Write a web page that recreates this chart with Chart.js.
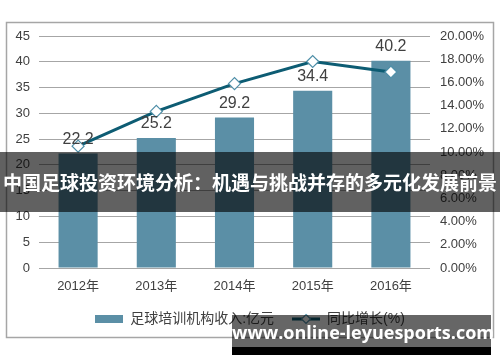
<!DOCTYPE html>
<html>
<head>
<meta charset="utf-8">
<script src="https://cdn.jsdelivr.net/npm/chart.js@4"></script>
<style>
html,body{margin:0;padding:0;background:#fff;}
#wrap{position:relative;width:500px;height:362px;overflow:hidden;}
canvas{position:absolute;left:0;top:0;}
#banner{position:absolute;left:0;top:152px;width:500px;height:60px;background:rgba(0,0,0,0.62);color:#fff;
 font:bold 19px "Noto Sans CJK SC",sans-serif;line-height:60px;text-align:center;white-space:nowrap;letter-spacing:0px;}
#wm{position:absolute;left:232px;top:315px;width:259px;height:29px;background:rgba(0,0,0,0.6);border-bottom:8px solid #000;
 color:#fff;font:bold 18px "Open Sans","DejaVu Sans",sans-serif;line-height:29px;text-align:center;white-space:nowrap;padding-top:3px;box-sizing:content-box;}
</style>
</head>
<body>
<div id="wrap">
<canvas id="c" width="500" height="362"></canvas>
<div id="banner">中国足球投资环境分析：机遇与挑战并存的多元化发展前景</div>
<div id="wm">www.online-leyuesports.com</div>
</div>
<script>
const categories = ['2012年','2013年','2014年','2015年','2016年'];
const revenue = [22.2, 25.2, 29.2, 34.4, 40.2];
const growth = [10.5, 13.5, 15.9, 17.8, 16.9];
const revenueLabel = '足球培训机构收入:亿元';
const growthLabel = '同比增长(%)';

const BAR = '#5b8fa6';
const LINE = '#0d5c73';
const FONT = '"Liberation Sans", Arial, "Noto Sans CJK SC", sans-serif';

function swatchBar(){
  const c=document.createElement('canvas');c.width=28;c.height=8;
  const x=c.getContext('2d');x.fillStyle=BAR;x.fillRect(0,0,28,8);return c;
}
function swatchLine(){
  const c=document.createElement('canvas');c.width=28;c.height=12;
  const x=c.getContext('2d');
  x.strokeStyle=LINE;x.lineWidth=3;x.beginPath();x.moveTo(0,6);x.lineTo(28,6);x.stroke();
  x.fillStyle='#fff';x.strokeStyle='#4f8fa8';x.lineWidth=1.2;
  x.beginPath();x.moveTo(14,1.5);x.lineTo(18.5,6);x.lineTo(14,10.5);x.lineTo(9.5,6);x.closePath();x.fill();x.stroke();
  return c;
}

const framePlugin={id:'frame',beforeDraw(chart){
  const ctx=chart.ctx;ctx.save();ctx.strokeStyle='#a6a6a6';ctx.lineWidth=1.5;
  ctx.strokeRect(6.5,22.5,487,315);ctx.restore();}};

const labelPlugin={id:'barlabels',afterDatasetsDraw(chart){
  const ctx=chart.ctx;const meta=chart.getDatasetMeta(1);
  ctx.save();ctx.font='16px '+FONT;ctx.fillStyle='#404040';ctx.textAlign='center';ctx.textBaseline='bottom';
  meta.data.forEach((el,i)=>{ctx.fillText(revenue[i].toFixed(1),el.x,el.y-6);});
  ctx.restore();}};

new Chart(document.getElementById('c'),{
  data:{labels:categories,datasets:[
    {type:'line',label:growthLabel,data:growth,yAxisID:'y1',borderColor:LINE,borderWidth:3,
     pointStyle:'rectRot',pointRadius:6,pointBackgroundColor:'#fff',pointBorderColor:'#4f8fa8',pointBorderWidth:1.2,
     tension:0,order:0},
    {type:'bar',label:revenueLabel,data:revenue,yAxisID:'y',backgroundColor:BAR,
     categoryPercentage:1,barPercentage:0.5,order:1}
  ]},
  options:{
    responsive:false,animation:false,
    layout:{padding:{left:6,right:6,top:36,bottom:26}},
    plugins:{
      tooltip:{enabled:false},
      legend:{position:'bottom',
        labels:{usePointStyle:true,pointStyleWidth:28,padding:18,color:'#404040',font:{size:14,family:FONT},
          generateLabels(chart){
            return [
              {text:revenueLabel,pointStyle:swatchBar(),fontColor:'#404040',datasetIndex:1,lineWidth:0},
              {text:growthLabel,pointStyle:swatchLine(),fontColor:'#404040',datasetIndex:0,lineWidth:0}
            ];}
        }}
    },
    scales:{
      x:{grid:{display:false},border:{display:false},
        ticks:{color:'#404040',font:{size:13,family:FONT},padding:3},
        afterFit(s){s.height=26;}},
      y:{position:'left',min:0,max:45,
        ticks:{stepSize:5,color:'#404040',font:{size:13,family:FONT},padding:9},
        grid:{color:'#a6a6a6',drawTicks:false,lineWidth:1},border:{display:false},
        afterFit(s){s.width=33;}},
      y1:{position:'right',min:0,max:20,
        ticks:{stepSize:2,color:'#404040',font:{size:13,family:FONT},padding:10,callback:v=>v.toFixed(2)+'%'},
        grid:{display:false,drawTicks:false},border:{display:false},
        afterFit(s){s.width=64;}}
    }
  },
  plugins:[framePlugin,labelPlugin]
});
</script>
</body>
</html>
